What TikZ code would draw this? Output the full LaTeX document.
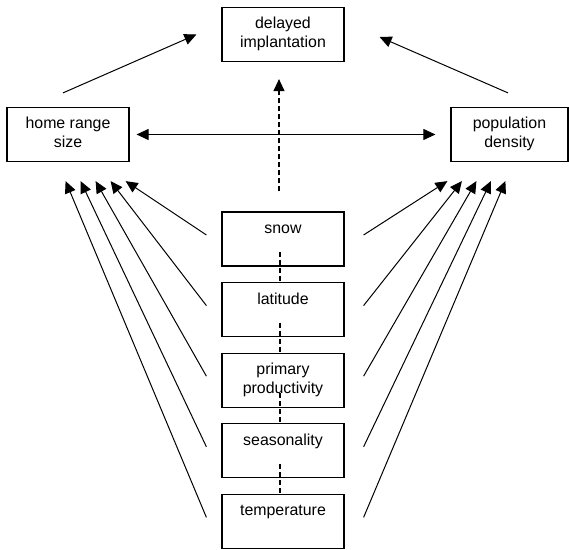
\documentclass[tikz,border=0pt]{standalone}
\usepackage{fontspec}
\setmainfont{Liberation Sans}
\usetikzlibrary{arrows.meta}
\begin{document}
\begin{tikzpicture}[x=.5pt, y=-.5pt, >={Triangle[length=6pt,width=5.5pt]},
	box/.style={draw, line width=.6pt, minimum width=61pt, minimum height=27pt, inner sep=0pt,
		align=center, font=\fontsize{7.95}{9.2}\selectfont},
	arr/.style={->, line width=.5pt},
	dsh/.style={dash pattern=on 2.5pt off 1.5pt, line width=.6pt}]
	\useasboundingbox (0,0) rectangle (569,550);
	% outcomes
	\node[box] (delay) at (283,34.5)  {\strut delayed\\\strut implantation};
	\node[box] (home)  at (68,134.5)  {\strut home range\\\strut size};
	\node[box, minimum width=58.5pt] (dens) at (509.5,134.5) {\strut population\\\strut density};
	% factors
	\node[box] (snow) at (283,239)   {\strut snow\\\strut};
	\node[box] (lat)  at (283,309.6) {\strut latitude\\\strut};
	\node[box] (prim) at (283,380.2) {\strut primary\\\strut productivity};
	\node[box] (seas) at (283,450.8) {\strut seasonality\\\strut};
	\node[box] (temp) at (283,521.4) {\strut temperature\\\strut};
	% links
	\draw[arr] ([shift={(-5,-14)}]home.north) -- ([shift={(-25,0)}]delay.west);
	\draw[arr] ([shift={(-1.5,-14)}]dens.north) -- ([shift={(35,2.5)}]delay.east);
	\draw[<->, line width=.5pt] ([shift={(7,0)}]home.east) -- ([shift={(-15,0)}]dens.west);
	\draw[dsh, ->] ([shift={(-4,-20)}]snow.north) -- ([shift={(-4,17)}]delay.south);
	\foreach \a/\b in {snow/lat, lat/prim, prim/seas, seas/temp}
		\draw[dsh] ([shift={(-3,13)}]\a.center) -- ([shift={(-3,0)}]\b.north);
	\foreach \n [count=\i from 0] in {snow, lat, prim, seas, temp} {
		\draw[arr] ([shift={(-15,-4)}]\n.west) -- ([shift={(-4-15*\i,19)}]home.south east);
		\draw[arr] ([shift={(19,-4)}]\n.east) -- ([shift={(-3+14.5*\i,19)}]dens.south west);
	}
\end{tikzpicture}
\end{document}
